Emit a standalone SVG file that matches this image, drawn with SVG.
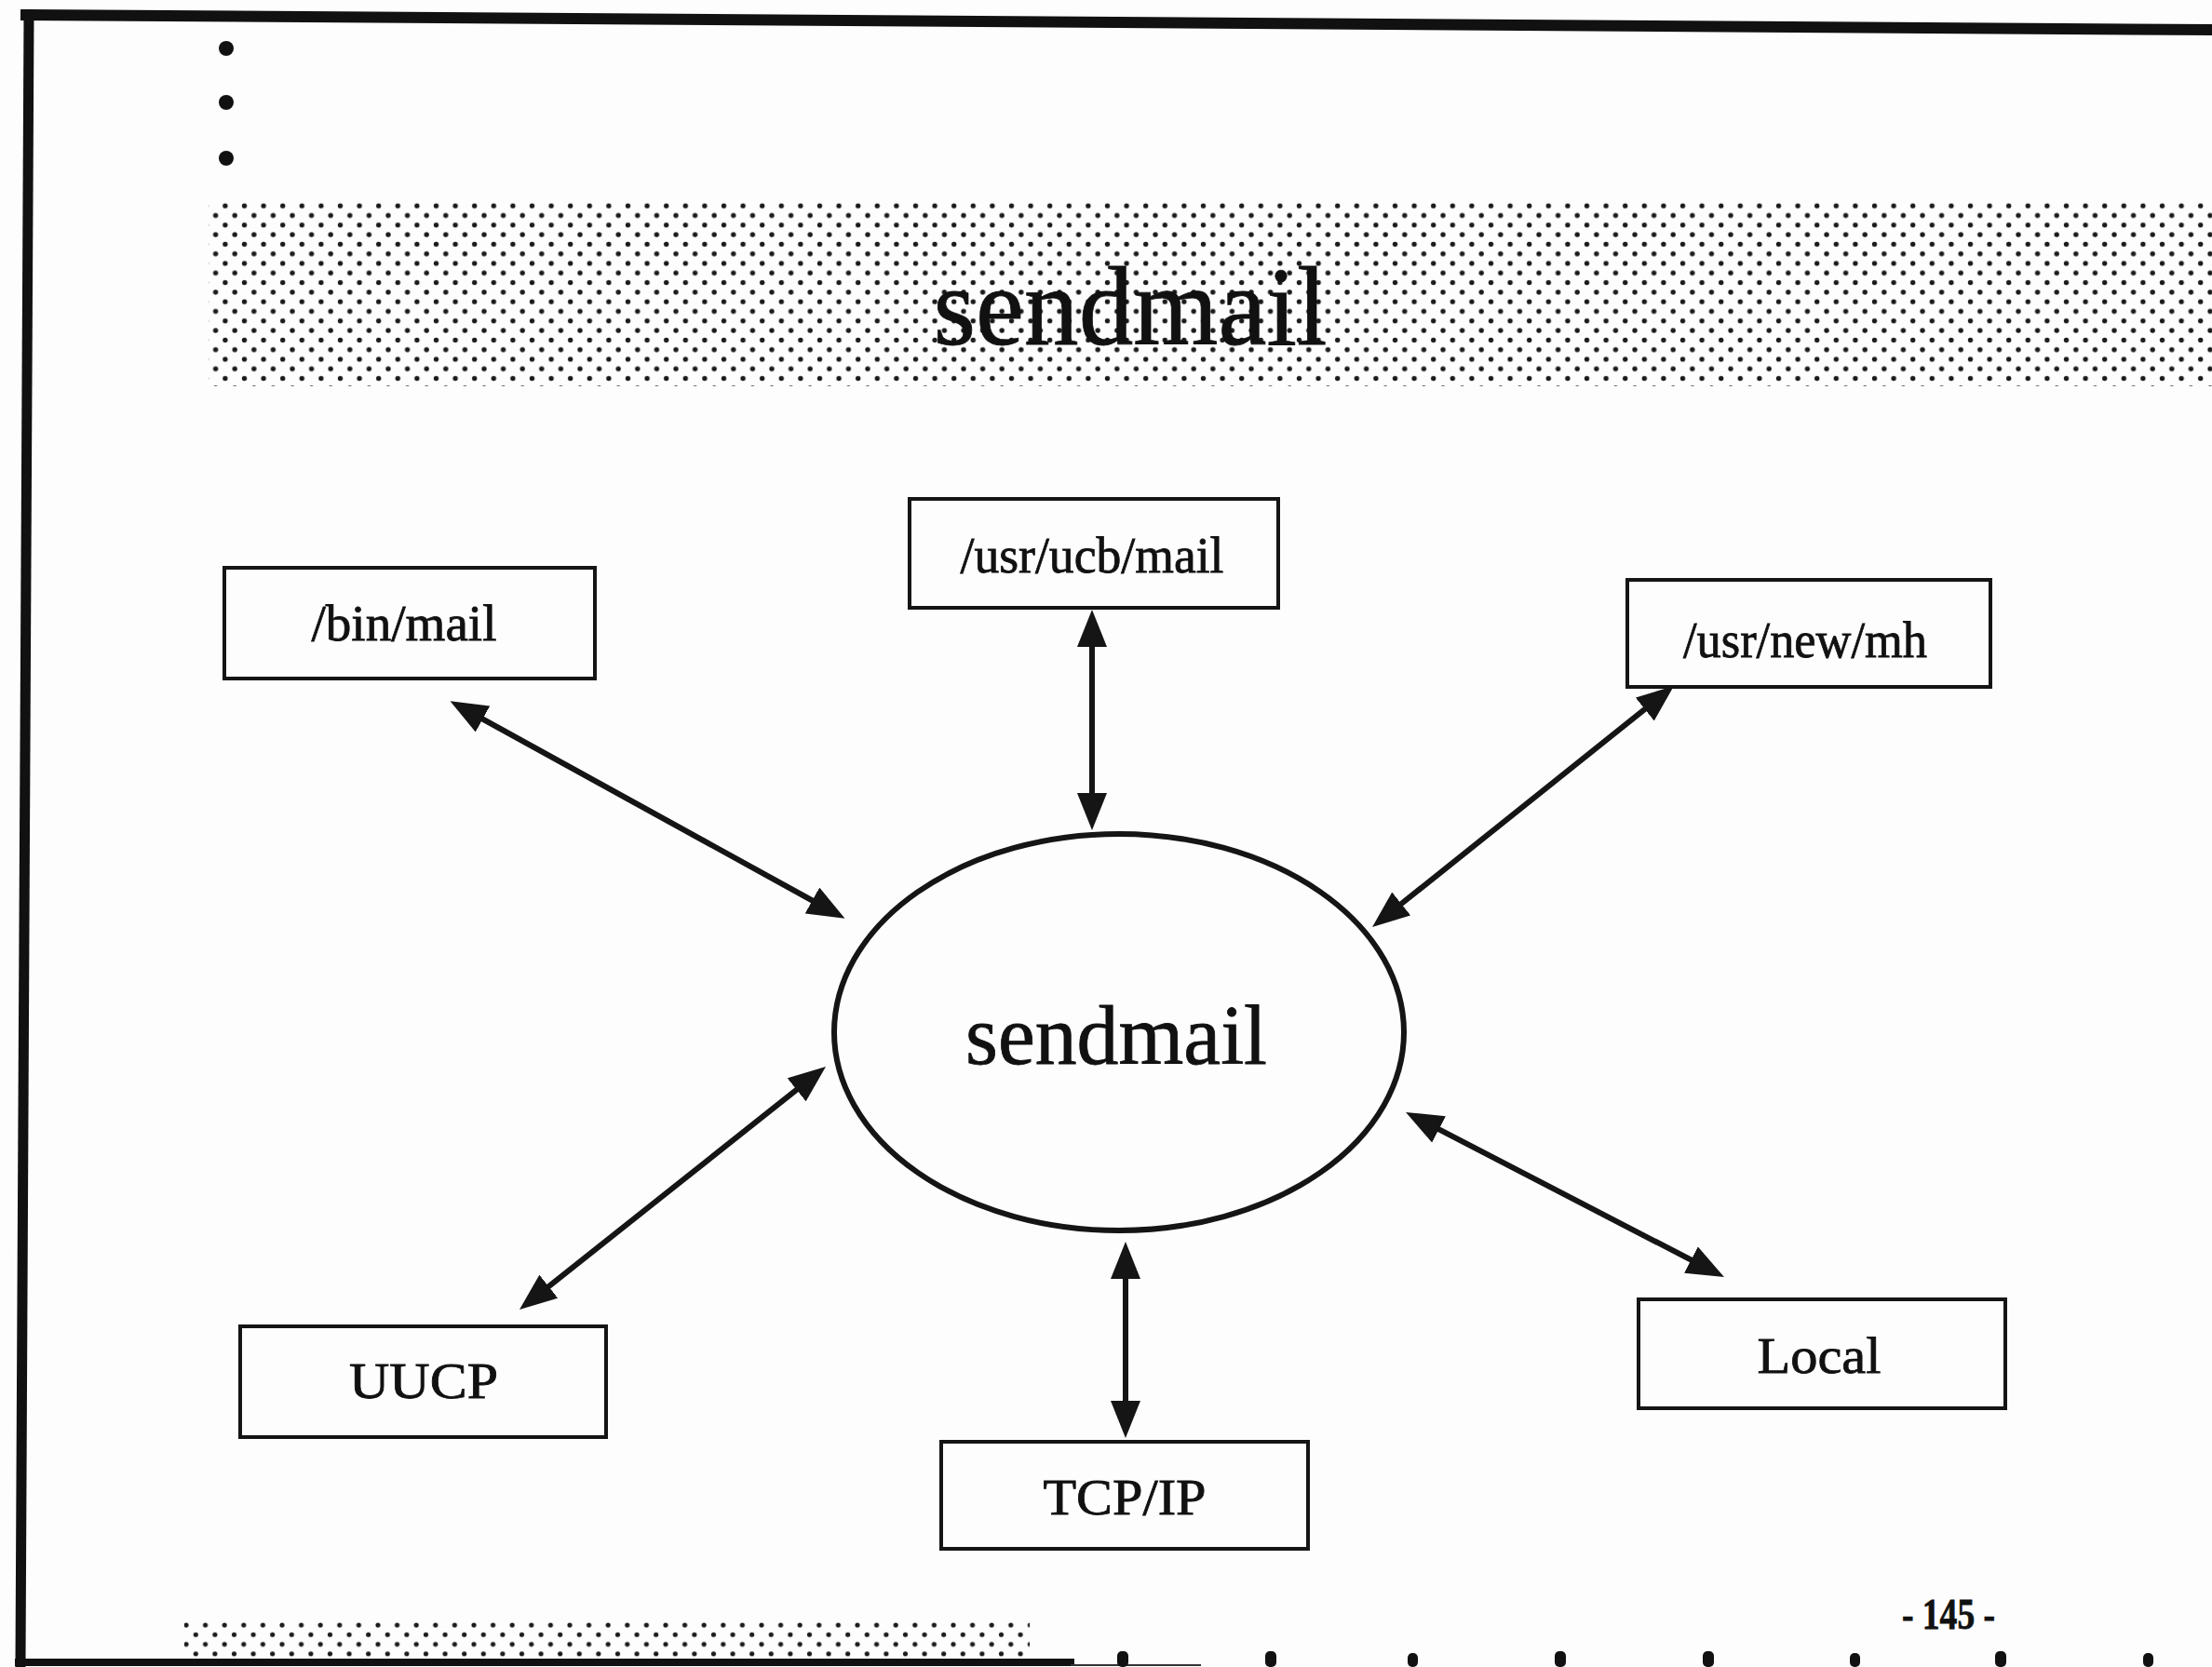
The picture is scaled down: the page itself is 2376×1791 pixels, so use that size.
<svg xmlns="http://www.w3.org/2000/svg" width="2376" height="1791" viewBox="0 0 2376 1791">
  <style>
    .frame { fill: none; stroke: #111; stroke-linecap: square; }
    .box { fill: #fdfdfd; stroke: #151515; stroke-width: 4; }
    .hub { fill: #fdfdfd; stroke: #151515; stroke-width: 6; }
    .label { font-family: "Liberation Serif", "Times New Roman", serif; fill: #111; stroke: #111; stroke-width: 0.8; text-anchor: middle; }
    .boxlabel { font-size: 54px; }
    .link { fill: none; stroke: #151515; stroke-width: 6; marker-start: url(#head); marker-end: url(#head); }
  </style>
  <defs>
    <pattern id="halftone" patternUnits="userSpaceOnUse" x="0" y="0" width="20.6" height="20.6">
      <circle cx="5" cy="5" r="2.7" fill="#1a1a1a"/>
      <circle cx="15.3" cy="15.3" r="2.7" fill="#1a1a1a"/>
    </pattern>
    <pattern id="halftone2" patternUnits="userSpaceOnUse" x="196" y="1741" width="20.6" height="20.6">
      <circle cx="4" cy="5" r="2.6" fill="#1a1a1a"/>
      <circle cx="14.3" cy="15.3" r="2.6" fill="#1a1a1a"/>
    </pattern>
    <marker id="head" markerUnits="userSpaceOnUse" viewBox="0 0 40 32" markerWidth="40" markerHeight="32" refX="28" refY="16" orient="auto-start-reverse">
      <path d="M0,0 L40,16 L0,32 z" fill="#151515"/>
    </marker>
  </defs>

  <!-- paper -->
  <rect x="0" y="0" width="2376" height="1791" fill="#fdfdfd"/>

  <!-- page frame -->
  <path class="frame" d="M28,16 L2376,32" stroke-width="12"/>
  <path class="frame" d="M31,16 L22,1786" stroke-width="11"/>
  <path class="frame" d="M20,1786 L1150,1786" stroke-width="8"/>
  <path d="M1150,1789 L1290,1789" stroke="#333" stroke-width="2"/>

  <!-- bullets -->
  <circle cx="243" cy="52" r="8" fill="#111"/>
  <circle cx="243" cy="110" r="8" fill="#111"/>
  <circle cx="243" cy="170" r="8" fill="#111"/>

  <!-- title band -->
  <rect x="224" y="215" width="2152" height="200" fill="url(#halftone)"/>
  <text class="label" x="1214" y="370" font-size="120" stroke-width="1.5" textLength="423" lengthAdjust="spacingAndGlyphs">sendmail</text>

  <!-- connectors -->
  <g id="connectors">
    <line class="link" x1="494" y1="759" x2="897" y2="981"/>
    <line class="link" x1="1173" y1="667" x2="1173" y2="880"/>
    <line class="link" x1="1788.6" y1="744.5" x2="1483.4" y2="988.5"/>
    <line class="link" x1="877.6" y1="1153.4" x2="567.4" y2="1399.6"/>
    <line class="link" x1="1209" y1="1346" x2="1209" y2="1533"/>
    <line class="link" x1="1520.7" y1="1200.5" x2="1841.3" y2="1366.5"/>
  </g>

  <!-- central process -->
  <g id="node-sendmail">
    <ellipse class="hub" cx="1202" cy="1109" rx="306" ry="213"/>
    <text class="label" x="1199" y="1143" font-size="90" textLength="324" lengthAdjust="spacingAndGlyphs">sendmail</text>
  </g>

  <!-- user agents -->
  <g id="node-binmail">
    <rect class="box" x="241" y="610" width="398" height="119"/>
    <text class="label boxlabel" x="434" y="688" textLength="199" lengthAdjust="spacingAndGlyphs">/bin/mail</text>
  </g>
  <g id="node-ucbmail">
    <rect class="box" x="977" y="536" width="396" height="117"/>
    <text class="label boxlabel" x="1173" y="615" textLength="283" lengthAdjust="spacingAndGlyphs">/usr/ucb/mail</text>
  </g>
  <g id="node-newmh">
    <rect class="box" x="1748" y="623" width="390" height="115"/>
    <text class="label boxlabel" x="1939" y="706" textLength="262" lengthAdjust="spacingAndGlyphs">/usr/new/mh</text>
  </g>

  <!-- delivery agents -->
  <g id="node-uucp">
    <rect class="box" x="258" y="1425" width="393" height="119"/>
    <text class="label boxlabel" x="455" y="1502" textLength="160" lengthAdjust="spacingAndGlyphs">UUCP</text>
  </g>
  <g id="node-tcpip">
    <rect class="box" x="1011" y="1549" width="394" height="115"/>
    <text class="label boxlabel" x="1208" y="1627" textLength="175" lengthAdjust="spacingAndGlyphs">TCP/IP</text>
  </g>
  <g id="node-local">
    <rect class="box" x="1760" y="1396" width="394" height="117"/>
    <text class="label boxlabel" x="1954" y="1475" textLength="133" lengthAdjust="spacingAndGlyphs">Local</text>
  </g>

  <!-- footer -->
  <rect x="198" y="1741" width="908" height="41" fill="url(#halftone2)"/>
  <text class="label" x="2093" y="1750" font-size="46" font-weight="bold" textLength="100" lengthAdjust="spacingAndGlyphs">- 145 -</text>

  <!-- ink marks along the lower edge -->
  <g fill="#111">
    <rect x="1200" y="1774" width="12" height="17" rx="5"/>
    <rect x="1359" y="1774" width="12" height="17" rx="5"/>
    <rect x="1512" y="1776" width="11" height="15" rx="5"/>
    <rect x="1670" y="1774" width="12" height="17" rx="5"/>
    <rect x="1829" y="1774" width="12" height="17" rx="5"/>
    <rect x="1987" y="1776" width="11" height="15" rx="5"/>
    <rect x="2143" y="1774" width="12" height="17" rx="5"/>
    <rect x="2302" y="1776" width="11" height="15" rx="5"/>
  </g>
</svg>
